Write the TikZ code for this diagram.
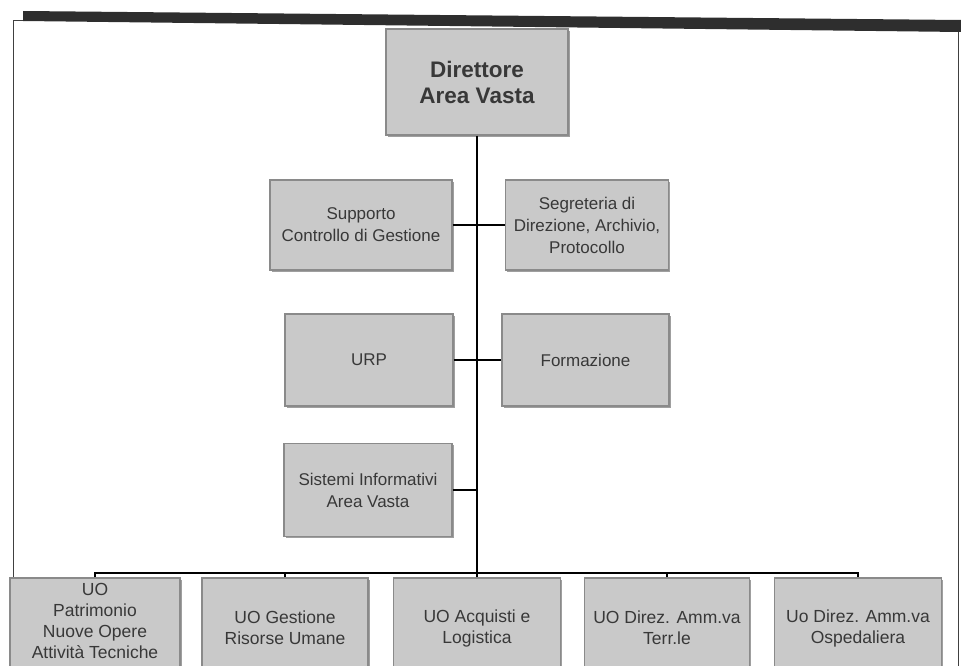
\documentclass[tikz,border=0pt]{standalone}
\usepackage{fontspec}
\setmainfont{Liberation Sans}
\usetikzlibrary{shadows}
\definecolor{boxgray}{HTML}{C9C9C9}
\definecolor{boxedge}{HTML}{8A8A8A}
\definecolor{boxtext}{HTML}{383838}
\definecolor{barcol}{HTML}{2E2E2E}
\tikzset{
  unit/.style={draw=boxedge, line width=1.4pt, fill=boxgray, text=boxtext,
    align=center, inner sep=2pt,
    drop shadow={shadow xshift=1.6pt, shadow yshift=-1.6pt, fill=gray!75, opacity=1},
    font=\fontsize{17}{22}\selectfont},
  lowunit/.style={unit, font=\fontsize{17.5}{21}\selectfont},
  headbox/.style={unit, font=\fontsize{22.5}{26}\bfseries\selectfont},
  link/.style={line width=1.8pt, draw=black},
  frame/.style={line width=0.9pt, draw=black!75}
}
\begin{document}
\begin{tikzpicture}[x=1pt, y=-1pt]
\useasboundingbox (0,0) rectangle (961,666);
\clip (0,0) rectangle (961,666);
% top bar and frame
\fill[barcol] (23,11) -- (961,20) -- (961,32) -- (23,21) -- cycle;
\draw[frame] (23,20) -- (13,20) -- (13,666);
\draw[frame] (958,32) -- (958,666);
% director
\node[headbox, minimum width=182pt, minimum height=106pt] (dir) at (477,82) {Direttore\\Area Vasta};
% staff
\node[unit, minimum width=182pt, minimum height=90pt] (sup) at (361,225) {Supporto\\Controllo di Gestione};
\node[unit, minimum width=163pt, minimum height=90pt] (seg) at (587,225) {Segreteria di\\Direzione, Archivio,\\Protocollo};
\node[unit, minimum width=168pt, minimum height=92pt] (urp) at (369,360) {URP};
\node[unit, minimum width=167pt, minimum height=92pt] (form) at (585.5,360) {Formazione};
\node[unit, minimum width=168pt, minimum height=93pt] (sis) at (368,490) {Sistemi Informativi\\Area Vasta};
% line units
\node[lowunit, minimum width=170pt, minimum height=100pt, text depth=14pt] (b1) at (95,628) {UO\\Patrimonio\\Nuove Opere\\Attività Tecniche};
\node[lowunit, minimum width=166pt, minimum height=100pt] (b2) at (285,628) {UO Gestione\\Risorse Umane};
\node[lowunit, minimum width=167pt, minimum height=100pt] (b3) at (477,628) {UO Acquisti e\\Logistica};
\node[lowunit, minimum width=165pt, minimum height=100pt] (b4) at (667,628) {UO Direz. Amm.va\\Terr.le};
\node[lowunit, minimum width=167pt, minimum height=100pt] (b5) at (858,628) {Uo Direz. Amm.va\\Ospedaliera};
% connectors
\coordinate (bus) at (477,573);
\draw[link] (dir.south) -- (bus);
\draw[link] (sup) -- (seg);
\draw[link] (urp) -- (form);
\draw[link] (sis.east) -- (sis.east -| bus);
\draw[link] (b1.north) -- (b1.north |- bus) -- (b5.north |- bus) -- (b5.north);
\draw[link] (b2.north) -- (b2.north |- bus);
\draw[link] (b3.north) -- (bus);
\draw[link] (b4.north) -- (b4.north |- bus);
\end{tikzpicture}
\end{document}
